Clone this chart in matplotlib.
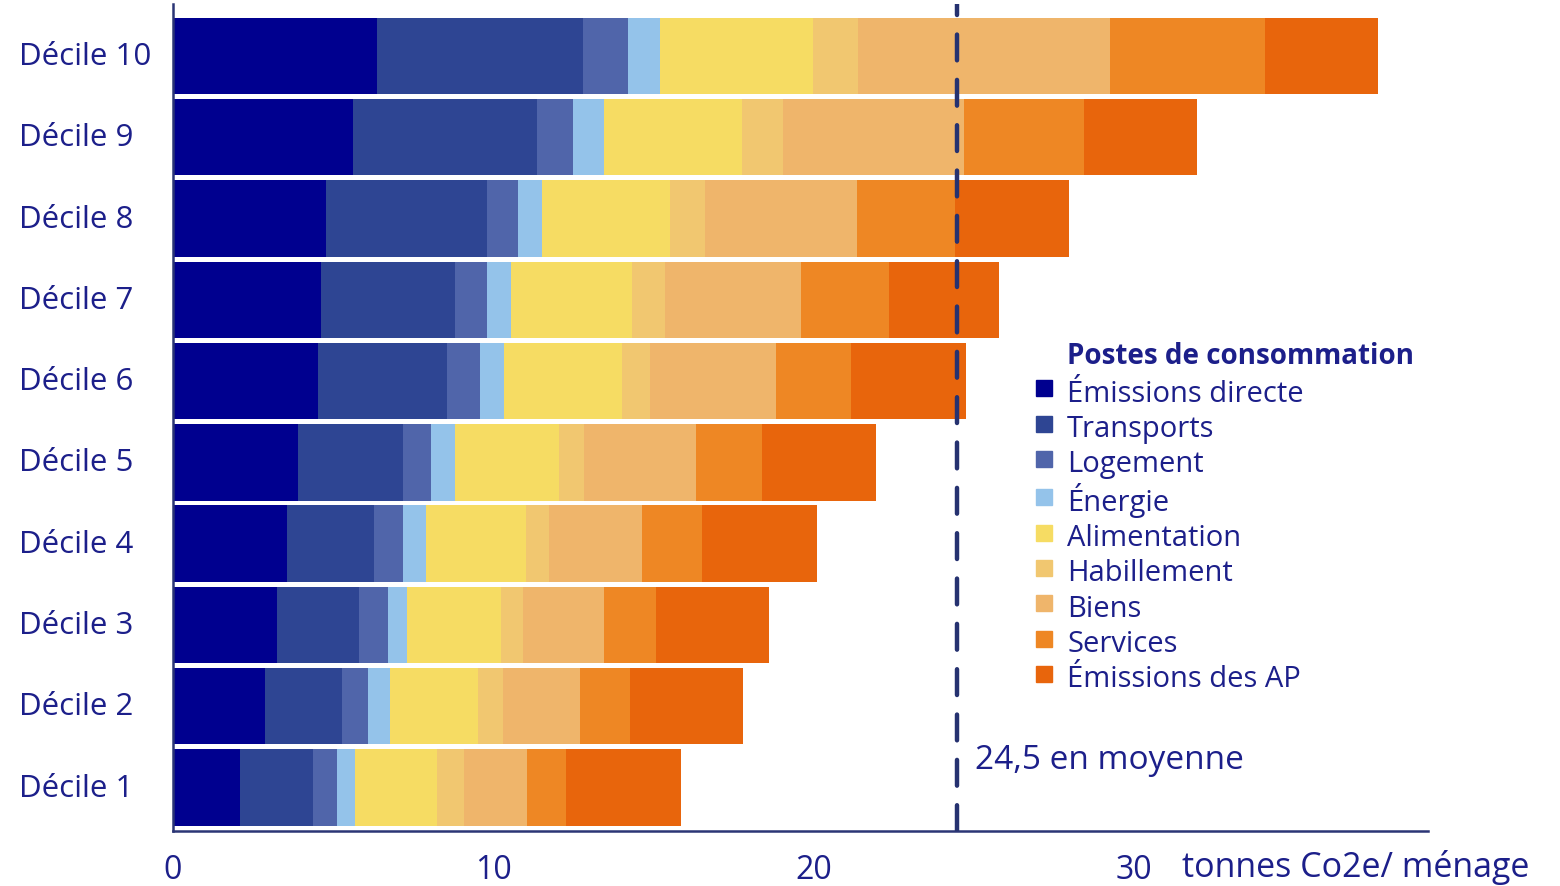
import numpy as np
import matplotlib.pyplot as plt
from matplotlib.lines import Line2D
from matplotlib.transforms import blended_transform_factory

plt.rcParams['font.family'] = ['Open Sans', 'DejaVu Sans']

# Deciles, bottom to top
deciles = ['Décile 1', 'Décile 2', 'Décile 3', 'Décile 4', 'Décile 5',
           'Décile 6', 'Décile 7', 'Décile 8', 'Décile 9', 'Décile 10']

categories = ['Émissions directe', 'Transports', 'Logement', 'Énergie',
              'Alimentation', 'Habillement', 'Biens', 'Services',
              'Émissions des AP']

# tonnes CO2e per household (decile 1 -> decile 10)
emissions_directe = [2.09, 2.88, 3.25, 3.56, 3.91, 4.53, 4.63, 4.78, 5.62, 6.38]
transports        = [2.28, 2.41, 2.56, 2.72, 3.28, 4.03, 4.19, 5.03, 5.75, 6.44]
logement          = [0.75, 0.81, 0.91, 0.91, 0.88, 1.03, 1.00, 0.97, 1.13, 1.38]
energie           = [0.56, 0.69, 0.59, 0.72, 0.75, 0.75, 0.75, 0.75, 0.97, 1.00]
alimentation      = [2.56, 2.75, 2.94, 3.13, 3.25, 3.69, 3.78, 4.00, 4.31, 4.78]
habillement       = [0.84, 0.78, 0.69, 0.69, 0.78, 0.88, 1.03, 1.09, 1.28, 1.41]
biens             = [1.97, 2.38, 2.53, 2.91, 3.50, 3.94, 4.25, 4.75, 5.66, 7.88]
services          = [1.22, 1.59, 1.63, 1.88, 2.06, 2.34, 2.72, 3.06, 3.75, 4.84]
emissions_ap      = [3.59, 3.50, 3.53, 3.59, 3.56, 3.59, 3.44, 3.56, 3.53, 3.53]

moyenne = 24.5

series = [emissions_directe, transports, logement, energie, alimentation,
          habillement, biens, services, emissions_ap]
colors = ['#00008f', '#2e4593', '#5065aa', '#94c3ea', '#f6dc63',
          '#f1c770', '#efb56b', '#ee8724', '#e8650c']

text_color = '#1c1f8a'
axis_color = '#2b3575'

fig = plt.figure(figsize=(15.6, 8.87), dpi=100)
ax = fig.add_axes([173 / 1560, 1 - 832 / 887, (1428 - 173) / 1560, (832 - 5) / 887])

y = np.arange(len(deciles))
left = np.zeros(len(deciles))
for values, cat, col in zip(series, categories, colors):
    ax.barh(y, values, left=left, height=0.94, color=col, label=cat, linewidth=0)
    left += np.array(values)

# average line
ax.axvline(moyenne, color='#263270', linewidth=3.2, linestyle=(0, (5.8, 4.4)),
           dash_capstyle='round', zorder=5)
ax.text(moyenne + 0.55, 0.35, '24,5 en moyenne', fontsize=24, color=text_color,
        ha='left', va='center')

ax.set_xlim(0, 39.2)
ax.set_ylim(-0.535, 9.64)

# axes styling
for side in ['top', 'right']:
    ax.spines[side].set_visible(False)
for side in ['left', 'bottom']:
    ax.spines[side].set_color(axis_color)
    ax.spines[side].set_linewidth(1.8)

ax.set_xticks([0, 10, 20, 30])
ax.tick_params(axis='x', length=0, pad=16, labelsize=23, labelcolor=text_color)
ax.set_yticks([])

ax.text(1182 / 1560, 1 - 868 / 887, 'tonnes Co2e/ ménage', transform=fig.transFigure,
        fontsize=24.5, color=text_color, ha='left', va='center')

# decile labels
trans = blended_transform_factory(fig.transFigure, ax.transData)
for yi, lab in zip(y, deciles):
    ax.text(19 / 1560, yi, lab, transform=trans, fontsize=22.5, color=text_color,
            ha='left', va='center')

# legend
handles = [Line2D([], [], marker='s', linestyle='', color=c, markersize=11)
           for c in colors]
leg = ax.legend(handles, categories, loc='upper left',
                bbox_to_anchor=(1035 / 1560, 1 - 377 / 887),
                bbox_transform=fig.transFigure, frameon=False,
                fontsize=21, handlelength=0.6, handleheight=1.2,
                handletextpad=0.5, labelspacing=0.12, borderpad=0,
                borderaxespad=0)
for t in leg.get_texts():
    t.set_color(text_color)
fig.text(1067 / 1560, 1 - 357 / 887, 'Postes de consommation', fontsize=20,
         fontweight='bold', color=text_color, ha='left', va='center')

fig.savefig('out.png', dpi=100)
